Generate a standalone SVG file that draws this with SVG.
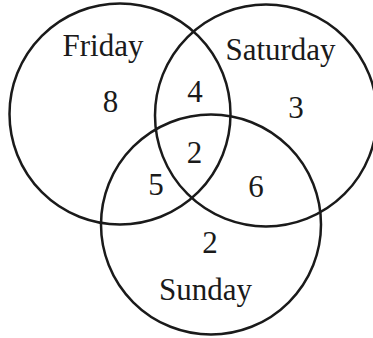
<svg xmlns="http://www.w3.org/2000/svg" width="373" height="338" viewBox="0 0 373 338">
<style>
.c{fill:none;stroke:#1a1a1a;stroke-width:2.5}
text{font-family:"Liberation Serif","Times New Roman",serif;font-size:31px;fill:#1a1a1a;text-anchor:middle}
</style>
<rect width="373" height="338" fill="#fff"/>
<g id="friday"><circle class="c" cx="120" cy="114" r="110.5"/><text x="103" y="56">Friday</text></g>
<g id="saturday"><circle class="c" cx="266" cy="115.5" r="111"/><text x="280.5" y="60">Saturday</text></g>
<g id="sunday"><circle class="c" cx="211" cy="224.5" r="110"/><text x="205.5" y="300">Sunday</text></g>
<g id="counts">
<text x="110.5" y="112">8</text>
<text x="195" y="102">4</text>
<text x="296" y="118">3</text>
<text x="194.5" y="163">2</text>
<text x="156" y="195">5</text>
<text x="256" y="197">6</text>
<text x="210" y="253">2</text>
</g>
</svg>
